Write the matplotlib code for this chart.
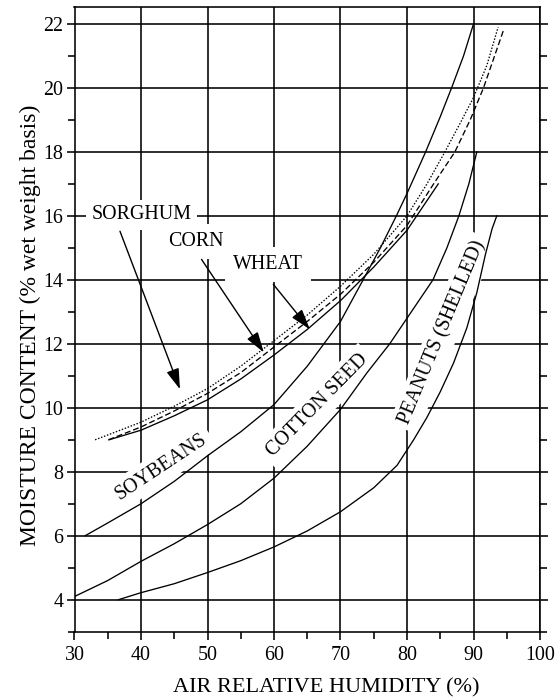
import matplotlib
matplotlib.use('Agg')
import matplotlib.pyplot as plt
from matplotlib.ticker import MultipleLocator

plt.rcParams['font.family'] = ['Liberation Serif', 'DejaVu Serif']

# ---- data ----
soy_x = [31.6, 35, 40, 45, 50, 55, 60, 65, 70, 73.4, 76, 78.4, 80, 82.8, 85, 86.7, 88.5, 90]
soy_y = [6.0, 6.4, 7.0, 7.7, 8.5, 9.25, 10.1, 11.3, 12.7, 14.0, 15.0, 16.0, 16.7, 18.0, 19.1, 20.0, 21.0, 22.0]

cot_x = [30, 35, 40, 45, 50, 55, 60, 65, 70, 74, 77.4, 80, 83.9, 86, 87.8, 89.3, 90.5]
cot_y = [4.1, 4.6, 5.2, 5.75, 6.35, 7.0, 7.8, 8.8, 9.95, 11.1, 12.0, 12.8, 14.0, 15.0, 16.0, 17.0, 18.0]

pea_x = [36.6, 40, 45, 50, 55, 60, 65, 70, 75, 78.5, 81, 83, 85, 87, 89, 90.5, 91.8, 92.8, 93.5]
pea_y = [4.0, 4.22, 4.5, 4.85, 5.22, 5.65, 6.15, 6.75, 7.5, 8.2, 9.0, 9.7, 10.5, 11.4, 12.5, 13.6, 14.8, 15.6, 16.0]

sor_x = [33.1, 35, 40, 45, 50, 55, 60, 65, 70, 75, 80, 83, 85.7, 88, 90, 92, 93.7]
sor_y = [9.0, 9.15, 9.55, 10.05, 10.6, 11.3, 12.1, 12.9, 13.8, 14.8, 16.0, 17.0, 18.0, 18.9, 19.7, 20.7, 21.9]

corn_x = [35.1, 40, 45, 50, 55, 60, 65, 70, 75, 80, 84, 87.2, 89.5, 91.5, 93, 94.5]
corn_y = [9.0, 9.4, 9.9, 10.45, 11.1, 11.9, 12.7, 13.55, 14.55, 15.7, 17.0, 18.0, 19.0, 20.0, 20.9, 21.8]

wht_x = [35.2, 40, 45, 50, 55, 60, 65, 70, 75, 80, 84.7]
wht_y = [9.0, 9.3, 9.75, 10.25, 10.9, 11.65, 12.45, 13.35, 14.4, 15.55, 17.0]

x_ticks = [30, 40, 50, 60, 70, 80, 90, 100]
y_ticks = [4, 6, 8, 10, 12, 14, 16, 18, 20, 22]

W, H = 556, 700
fig = plt.figure(figsize=(W / 100, H / 100), dpi=100)
L, R, T, B = 74.5, 540.0, 6.7, 631.7
ax = fig.add_axes([L / W, 1 - B / H, (R - L) / W, (B - T) / H])
ax.set_xlim(30, 100)
ax.set_ylim(3, 22.54)

ax.set_xticks(x_ticks)
ax.set_yticks(y_ticks)
ax.xaxis.set_minor_locator(MultipleLocator(5))
ax.yaxis.set_minor_locator(MultipleLocator(1))
ax.grid(True, which='major', color='black', lw=1.15)
ax.set_axisbelow(True)
ax.tick_params(which='both', direction='out', width=1.15, colors='black',
               top=False, right=True, labelright=False, labelsize=14.4)
ax.tick_params(which='major', length=6, pad=2)
ax.tick_params(which='minor', length=5)
ax.tick_params(axis='x', which='major', pad=4)
for s in ax.spines.values():
    s.set_linewidth(1.15)

lw = 0.95
ax.plot(soy_x, soy_y, color='black', lw=lw, zorder=4)
ax.plot(cot_x, cot_y, color='black', lw=lw, zorder=4)
ax.plot(pea_x, pea_y, color='black', lw=lw, zorder=4)
ax.plot(wht_x, wht_y, color='black', lw=lw, zorder=4)
ax.plot(corn_x, corn_y, color='black', lw=0.95, ls=(0, (4.5, 2.2)), zorder=4)
ax.plot(sor_x, sor_y, color='black', lw=0.95, ls=(0, (1.1, 1.3)), zorder=4)

fs = 14.4
box = dict(fc='white', ec='none', pad=4)
ax.text(40.1, 16.04, 'SORGHUM', fontsize=fs, ha='center', va='center', bbox=box, zorder=3)
ax.text(48.2, 15.2, 'CORN', fontsize=fs, ha='center', va='center', bbox=dict(fc='white', ec='none', pad=6), zorder=3)
ax.text(59.1, 14.48, 'WHEAT', fontsize=fs, ha='center', va='center', bbox=dict(fc='white', ec='none', pad=6), zorder=3)
ax.text(43.1, 8.14, 'SOYBEANS', fontsize=fs, ha='center', va='center', rotation=33.5,
        rotation_mode='anchor', bbox=box, zorder=3)
ax.text(66.5, 10.06, 'COTTON SEED', fontsize=fs, ha='center', va='center', rotation=45.5,
        rotation_mode='anchor', bbox=box, zorder=3)
ax.text(85.4, 12.36, 'PEANUTS (SHELLED)', fontsize=fs, ha='center', va='center', rotation=67.4,
        rotation_mode='anchor', bbox=box, zorder=3)

ap = dict(arrowstyle='-|>,head_length=0.9,head_width=0.28', color='black', lw=1.0,
          mutation_scale=14, shrinkA=0, shrinkB=0)
ax.annotate('', xy=(45.86, 10.58), xytext=(36.84, 15.52), arrowprops=ap, zorder=5)
ax.annotate('', xy=(58.47, 11.73), xytext=(49.1, 14.64), arrowprops=ap, zorder=5)
ax.annotate('', xy=(65.4, 12.45), xytext=(59.9, 13.86), arrowprops=ap, zorder=5)

fig.text(326 / W, 1 - 692 / H, 'AIR RELATIVE HUMIDITY (%)', fontsize=16, ha='center', va='baseline')
fig.text(30 / W, 1 - 325 / H, 'MOISTURE CONTENT (% wet weight basis)', fontsize=17,
         ha='center', va='center', rotation=90)

fig.savefig('out.png', dpi=100, facecolor='white')
